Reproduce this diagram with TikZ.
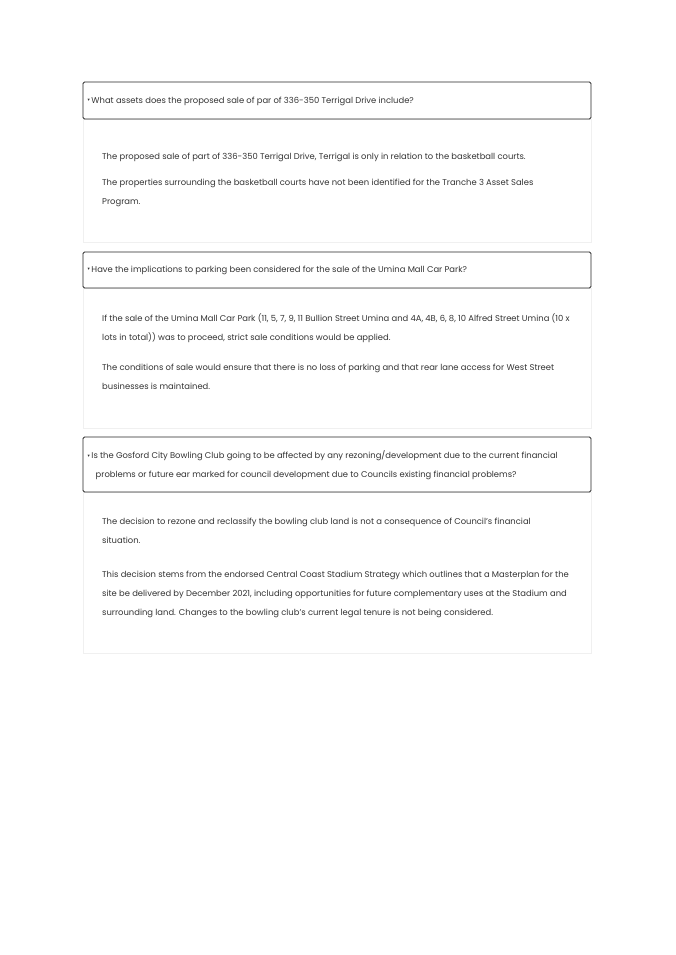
\documentclass[tikz,border=0pt]{standalone}
\usepackage{fontspec}
\setmainfont{Poppins}
\newfontfamily\arrowfont{DejaVu Sans}
\usetikzlibrary{positioning}

\definecolor{txtgray}{HTML}{333333}
\tikzset{
  qbox/.style={draw=black!85, line width=0.9pt, rounded corners=1.5pt},
  abox/.style={draw=black!6, line width=0.6pt},
  qtext/.style={anchor=north west, inner sep=0pt, align=left, text=txtgray,
    font=\fontsize{8.4}{18.5}\selectfont},
  atext/.style={anchor=north west, inner sep=0pt, align=left, text=txtgray,
    font=\fontsize{8.4}{19}\selectfont}
}
\newcommand{\qmark}{\raisebox{1.3pt}{\arrowfont\fontsize{4.5}{4.5}\selectfont ▾}\hspace{1.5pt}}

\begin{document}
\begin{tikzpicture}[x=1pt, y=-1pt]
\useasboundingbox (0,0) rectangle (675,955);

% first question
\draw[abox] (83,119) rectangle (591,242);
\draw[qbox] (83,82) rectangle (591,119);
\node[qtext] (q1) at (87.5,96.5) {\qmark What assets does the proposed sale of par of 336-350 Terrigal Drive include?};
\node[atext] (a1a) at (102,152.5) {The proposed sale of part of 336-350 Terrigal Drive, Terrigal is only in relation to the basketball courts.};
\node[atext] (a1b) at (102,178.5) {The properties surrounding the basketball courts have not been identified for the Tranche 3 Asset Sales\\Program.};

% second question
\draw[abox] (83,288) rectangle (591,428);
\draw[qbox] (83,252) rectangle (591,288);
\node[qtext] (q2) at (87.5,265.5) {\qmark Have the implications to parking been considered for the sale of the Umina Mall Car Park?};
\node[atext] (a2a) at (102,313.5) {If the sale of the Umina Mall Car Park (11, 5, 7, 9, 11 Bullion Street Umina and 4A, 4B, 6, 8, 10 Alfred Street Umina (10 x\\lots in total)) was to proceed, strict sale conditions would be applied.};
\node[atext] (a2b) at (102,363.5) {The conditions of sale would ensure that there is no loss of parking and that rear lane access for West Street\\businesses is maintained.};

% third question
\draw[abox] (83,492) rectangle (591,653);
\draw[qbox] (83,437) rectangle (591,492);
\node[qtext] (q3) at (87.5,450.5) {\qmark Is the Gosford City Bowling Club going to be affected by any rezoning/development due to the current financial\\\hspace*{8pt}problems or future ear marked for council development due to Councils existing financial problems?};
\node[atext] (a3a) at (102,517.5) {The decision to rezone and reclassify the bowling club land is not a consequence of Council's financial\\situation.};
\node[atext] (a3b) at (102,570.5) {This decision stems from the endorsed Central Coast Stadium Strategy which outlines that a Masterplan for the\\site be delivered by December 2021, including opportunities for future complementary uses at the Stadium and\\surrounding land. Changes to the bowling club's current legal tenure is not being considered.};
\end{tikzpicture}
\end{document}
